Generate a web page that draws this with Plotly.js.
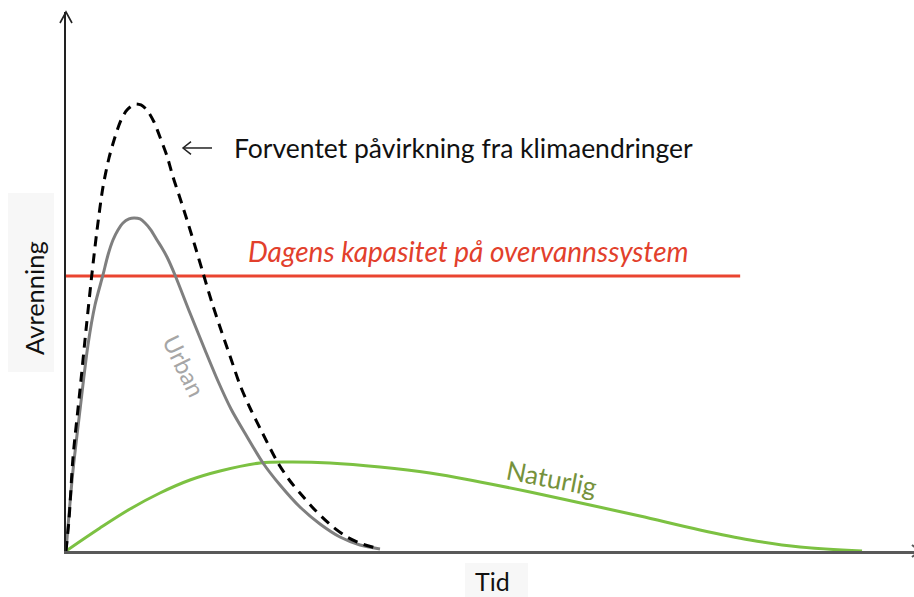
<!DOCTYPE html>
<html>
<head>
<meta charset="utf-8">
<script src="https://cdn.plot.ly/plotly-3.0.1.min.js"></script>
<style>html,body{margin:0;padding:0;background:#fff;}#chart{width:914px;height:597px;}</style>
</head>
<body>
<div id="chart"></div>
<script>
// Forventet (expected climate impact) - dashed
const forventetX = [0,0.35,0.83,1.65,2.36,3.07,3.66,4.36,5.07,5.78,6.49,7.19,8.14,8.84,9.55,10.38,11.08,11.91,12.62,13.44,14.27,15.21,16.16,17.22,18.40,19.58,20.52,21.70,23.11,25.0,26.42,27.59,29.36,31.49,33.14,34.91,37.03];
const forventetY = [0,5.75,17.44,29.87,41.0,51.58,59.55,67.53,72.91,76.81,79.96,81.82,82.93,82.75,81.82,79.59,76.81,73.28,69.39,65.49,61.41,56.59,51.58,46.01,40.45,35.06,30.80,26.53,22.08,16.33,12.99,10.76,7.61,4.45,2.60,1.30,0.37];
// Urban
const urbanX = [0,0.35,0.83,1.65,2.59,3.42,4.36,4.95,5.54,6.13,6.72,7.43,8.02,8.73,9.32,10.02,10.73,11.32,11.91,12.85,14.62,16.39,17.92,19.46,21.23,23.23,25.24,27.59,29.95,32.31,34.67,37.03];
const urbanY = [0,6.68,15.03,26.16,38.22,45.64,51.21,54.92,57.70,59.55,60.85,61.60,61.78,61.60,60.85,59.55,57.70,56.22,54.55,51.21,44.16,37.29,31.54,26.35,21.52,16.33,12.24,8.16,5.01,2.60,1.11,0.37];
// Naturlig
const naturligX = [0,4.01,7.55,11.08,14.62,18.16,22.88,26.42,31.13,37.03,42.92,48.82,54.72,61.79,67.69,74.76,80.66,86.56,93.87];
const naturligY = [0,4.27,7.79,10.76,13.17,14.84,16.33,16.51,16.33,15.58,14.47,12.80,10.95,8.53,6.49,3.90,2.04,0.74,0];
// Capacity line
const kapasitetX = [0,79.5];
const kapasitetY = [51.0,51.0];

const labels = {
  forventet: "Forventet påvirkning fra klimaendringer",
  kapasitet: "Dagens kapasitet på overvannssystem",
  urban: "Urban",
  naturlig: "Naturlig",
  xTitle: "Tid",
  yTitle: "Avrenning"
};

const FONT = "Lato, 'Open Sans', sans-serif";

const traces = [
  {x: naturligX, y: naturligY, mode: 'lines', line: {color: '#7cc142', width: 3, shape: 'spline', smoothing: 1}, cliponaxis: false, hoverinfo: 'skip'},
  {x: kapasitetX, y: kapasitetY, mode: 'lines', line: {color: '#ea4430', width: 3}, cliponaxis: false, hoverinfo: 'skip'},
  {x: urbanX, y: urbanY, mode: 'lines', line: {color: '#7f7f7f', width: 3, shape: 'spline', smoothing: 0.8}, cliponaxis: false, hoverinfo: 'skip'},
  {x: forventetX, y: forventetY, mode: 'lines', line: {color: '#000000', width: 3, dash: '10px,7px', shape: 'spline', smoothing: 0.8}, cliponaxis: false, hoverinfo: 'skip'}
];

const layout = {
  width: 914, height: 597,
  margin: {l: 66, r: 0, t: 12, b: 46},
  paper_bgcolor: '#ffffff', plot_bgcolor: '#ffffff',
  showlegend: false,
  xaxis: {range: [0, 100], showgrid: false, zeroline: false, showticklabels: false, ticks: '',
          showline: true, linecolor: '#595959', linewidth: 2.5, fixedrange: true},
  yaxis: {range: [0, 100], showgrid: false, zeroline: false, showticklabels: false, ticks: '',
          showline: true, linecolor: '#222222', linewidth: 1.6, fixedrange: true},
  shapes: [
    // y-axis arrow head
    {type: 'path', xref: 'paper', yref: 'paper', path: 'M -0.00708 0.9796 L 0 1 L 0.00708 0.9796', line: {color: '#222222', width: 1.6}},
    // x-axis arrow head (mostly outside)
    {type: 'path', xref: 'paper', yref: 'paper', path: 'M 0.9976 0.0111 L 1.0071 0 L 0.9976 -0.0111', line: {color: '#595959', width: 2}},
    // pointer arrow next to the climate label
    {type: 'line', xref: 'x', yref: 'y', x0: 13.80, x1: 17.22, y0: 74.77, y1: 74.77, line: {color: '#222222', width: 1.5}},
    {type: 'path', xref: 'x', yref: 'y', path: 'M 14.74 75.95 L 13.80 74.77 L 14.74 73.59', line: {color: '#222222', width: 1.5}},
    // axis title backgrounds
    {type: 'rect', xref: 'paper', yref: 'paper', x0: -0.0684, x1: -0.0142, y0: 0.3321, y1: 0.6642, fillcolor: '#f7f7f7', line: {width: 0}, layer: 'below'},
    {type: 'rect', xref: 'paper', yref: 'paper', x0: 0.4705, x1: 0.5448, y0: -0.0223, y1: -0.095, fillcolor: '#f7f7f7', line: {width: 0}, layer: 'below'}
  ],
  annotations: [
    {x: 19.58, y: 74.8, xref: 'x', yref: 'y', text: labels.forventet, showarrow: false, font: {family: FONT, size: 26.5, color: '#111'}, xanchor: 'left', yanchor: 'middle'},
    {x: 47.41, y: 55.6, xref: 'x', yref: 'y', text: '<i>' + labels.kapasitet + '</i>', showarrow: false, font: {family: FONT, size: 28, color: '#e2402c'}, xanchor: 'center', yanchor: 'middle'},
    {x: 14.03, y: 34.3, xref: 'x', yref: 'y', text: labels.urban, showarrow: false, textangle: 64, font: {family: FONT, size: 24, color: '#a6a6a6'}, xanchor: 'center', yanchor: 'middle'},
    {x: 57.31, y: 13.6, xref: 'x', yref: 'y', text: labels.naturlig, showarrow: false, textangle: 11, font: {family: FONT, size: 26, color: '#76923c'}, xanchor: 'center', yanchor: 'middle'},
    {x: -0.0377, y: 0.4694, xref: 'paper', yref: 'paper', text: labels.yTitle, showarrow: false, textangle: -90, font: {family: FONT, size: 25.5, color: '#111'}, xanchor: 'center', yanchor: 'middle'},
    {x: 0.5035, y: -0.056, xref: 'paper', yref: 'paper', text: labels.xTitle, showarrow: false, font: {family: FONT, size: 25, color: '#111'}, xanchor: 'center', yanchor: 'middle'}
  ]
};

Plotly.newPlot('chart', traces, layout, {displayModeBar: false, staticPlot: true});
</script>
</body>
</html>
